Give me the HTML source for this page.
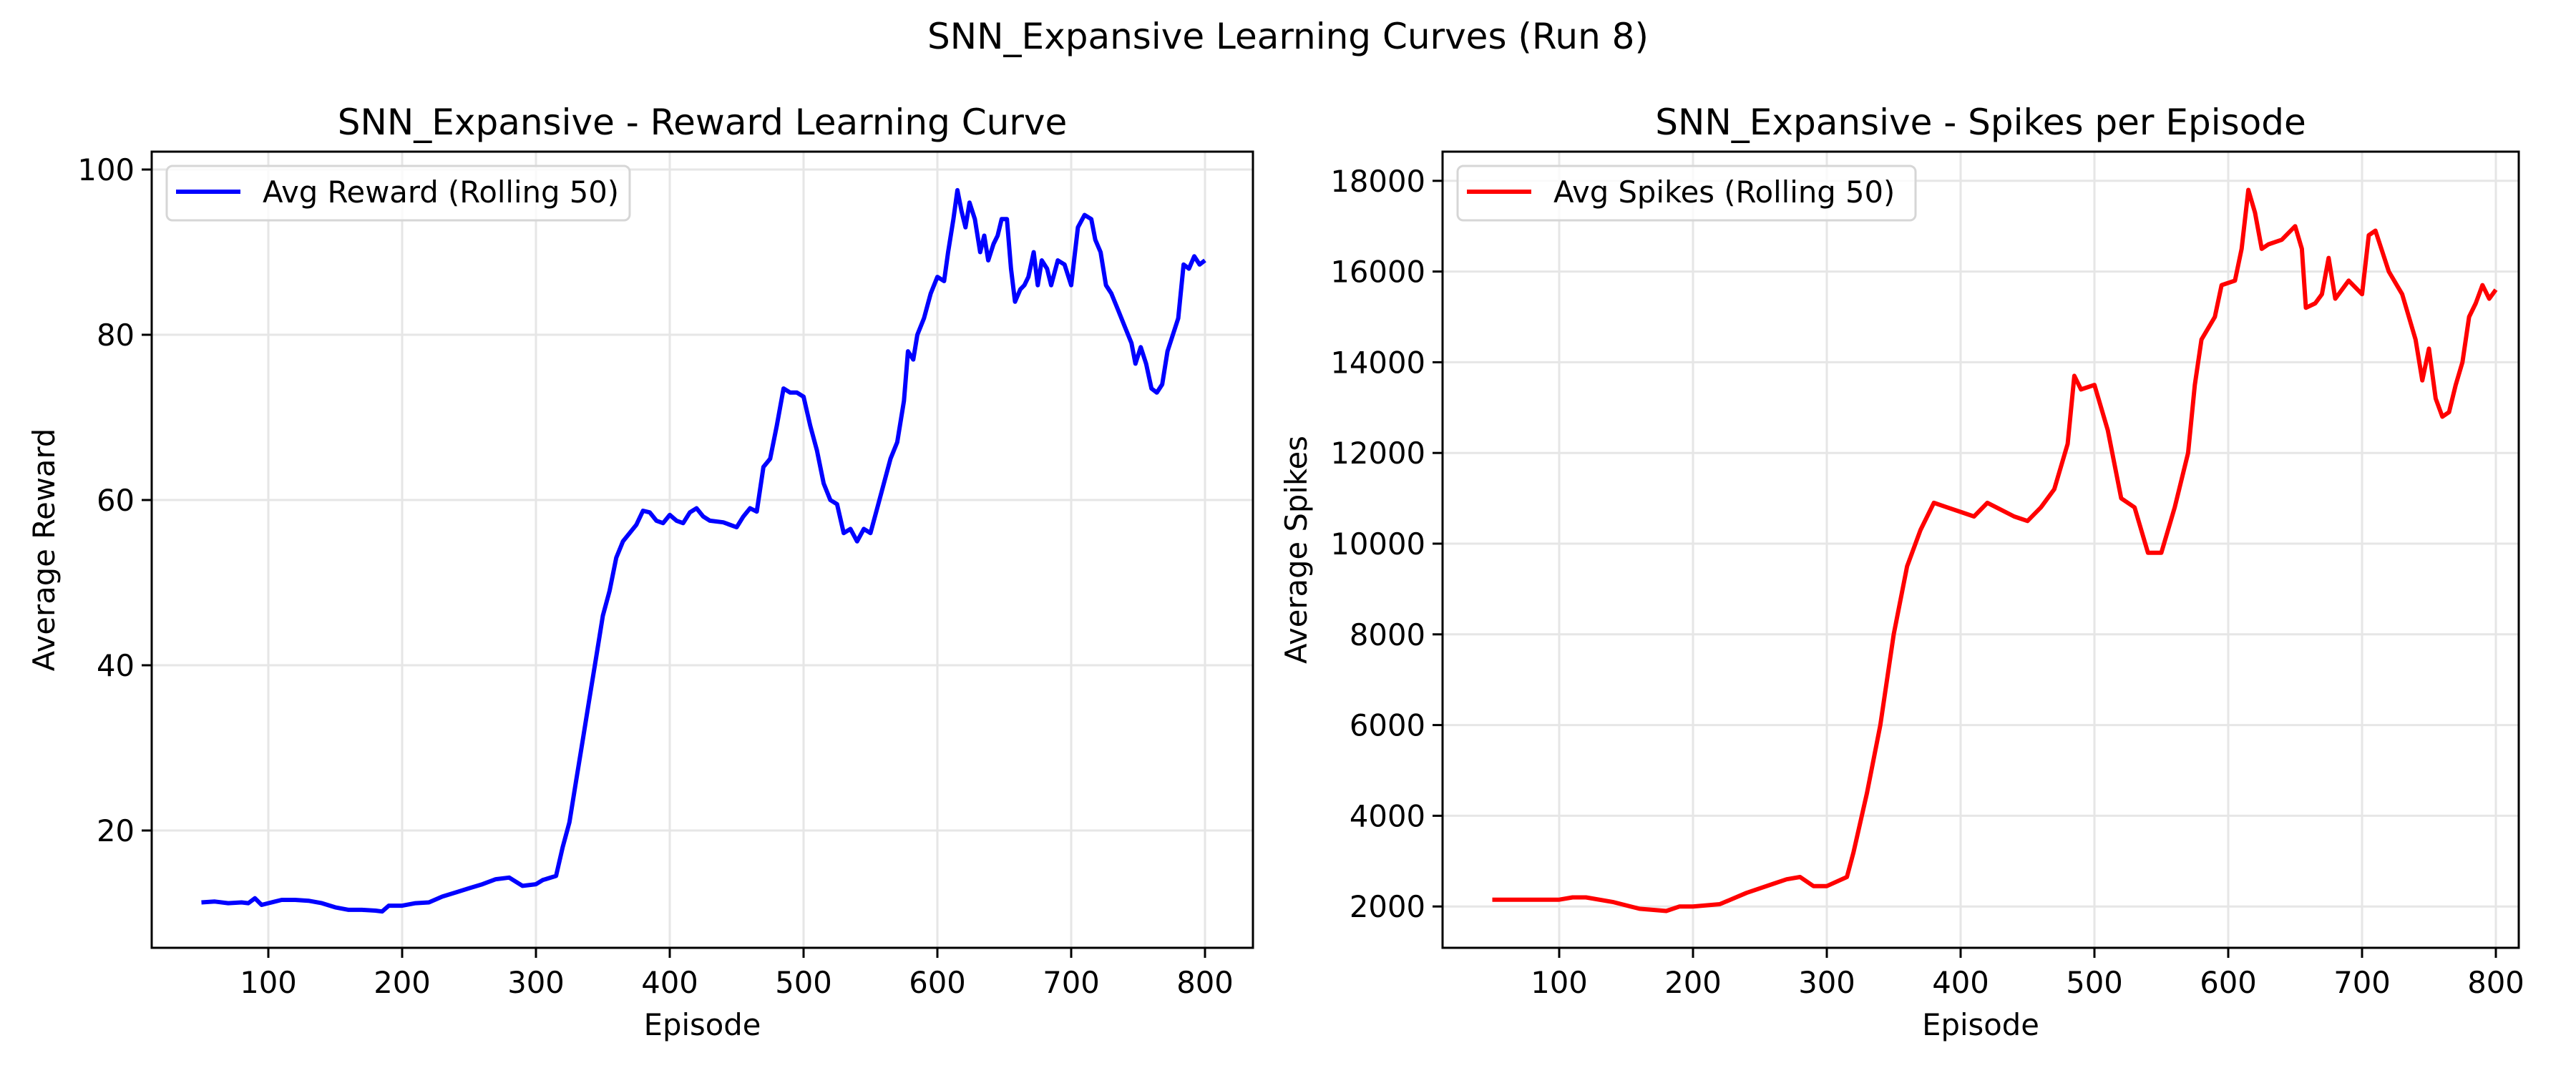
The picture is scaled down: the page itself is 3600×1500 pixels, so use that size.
<!DOCTYPE html>
<html><head><meta charset="utf-8"><style>
html,body{margin:0;padding:0;background:#fff;}
svg{display:block;font-family:"DejaVu Sans","Liberation Sans",sans-serif;}
</style></head><body>
<svg id="fig" width="3600" height="1500" viewBox="0 0 3600 1500" xmlns="http://www.w3.org/2000/svg">
<rect width="3600" height="1500" fill="#fff"/>
<text x="1800" y="68" font-size="50" text-anchor="middle">SNN_Expansive Learning Curves (Run 8)</text>
<g id="left"></g>
<g id="right"></g>
</svg>
<script>
const rewardEpisodes=[50,60,70,80,85,90,95,100,110,120,130,140,150,160,170,180,185,190,200,210,220,230,240,250,260,270,280,290,300,305,315,320,325,330,335,340,345,350,355,360,365,370,375,380,385,390,395,400,405,410,415,420,425,430,440,450,455,460,465,470,475,480,485,490,495,500,505,510,515,520,525,530,535,540,545,550,555,560,565,570,575,578,582,585,590,595,600,605,608,612,615,618,621,624,628,632,635,638,642,645,648,652,655,658,662,665,668,672,675,678,682,685,690,695,700,705,710,715,718,722,726,730,735,740,745,748,752,756,760,764,768,772,776,780,784,788,792,796,800];
const rewardValues=[11.3,11.4,11.2,11.3,11.2,11.8,11.0,11.2,11.6,11.6,11.5,11.2,10.7,10.4,10.4,10.3,10.2,10.9,10.9,11.2,11.3,12.0,12.5,13.0,13.5,14.1,14.3,13.3,13.5,14.0,14.5,18,21,26,31,36,41,46,49,53,55,56,57,58.7,58.5,57.5,57.2,58.2,57.5,57.2,58.5,59.0,58.0,57.5,57.3,56.7,58,59,58.6,64,65,69,73.5,73,73,72.5,69,66,62,60,59.5,56,56.5,55,56.5,56,59,62,65,67,72,78,77,80,82,85,87,86.5,90,94,97.5,95,93,96,94,90,92,89,91,92,94,94,88,84,85.5,86,87,90,86,89,88,86,89,88.5,86,93,94.5,94,91.5,90,86,85,83,81,79,76.5,78.5,76.5,73.5,73,74,78,80,82,88.5,88,89.5,88.5,89];
const spikeEpisodes=[50,100,110,120,140,160,180,190,200,220,240,260,270,280,290,300,315,320,330,340,350,360,370,380,390,400,410,420,440,450,460,470,480,485,490,500,510,520,530,540,550,560,570,575,580,590,595,605,610,615,620,625,630,640,650,655,658,665,670,675,680,690,700,705,710,720,730,740,745,750,755,760,765,770,775,780,785,790,795,800];
const spikeValues=[2150,2150,2200,2200,2100,1950,1900,2000,2000,2050,2300,2500,2600,2650,2450,2450,2650,3200,4500,6000,8000,9500,10300,10900,10800,10700,10600,10900,10600,10500,10800,11200,12200,13700,13400,13500,12500,11000,10800,9800,9800,10800,12000,13500,14500,15000,15700,15800,16500,17800,17300,16500,16600,16700,17000,16500,15200,15300,15500,16300,15400,15800,15500,16800,16900,16000,15500,14500,13600,14300,13200,12800,12900,13500,14000,15000,15300,15700,15400,15600];
const xTicks=[100,200,300,400,500,600,700,800];
const rewardTicks=[20,40,60,80,100];
const spikeTicks=[2000,4000,6000,8000,10000,12000,14000,16000,18000];
const NS="http://www.w3.org/2000/svg";
function mk(parent,tag,attrs,text){const e=document.createElementNS(NS,tag);for(const k in attrs)e.setAttribute(k,attrs[k]);if(text!==undefined)e.textContent=text;parent.appendChild(e);return e;}
function panel(g,cfg){
  const X=v=>cfg.x0+v*cfg.xs, Y=v=>cfg.y0-v*cfg.ys;
  const L=cfg.left,R=cfg.right,T=212,B=1325;
  for(const t of xTicks){
    const gl=mk(g,'line',{x1:X(t),x2:X(t),y1:T,y2:B,stroke:'#e6e6e6','stroke-width':3});
    
    
    mk(g,'line',{x1:X(t),x2:X(t),y1:B,y2:B+14,stroke:'#000','stroke-width':3});
    const tl=mk(g,'text',{x:X(t),y:B+63,'font-size':41.7,'text-anchor':'middle'},String(t));
    
    
  }
  for(const t of cfg.yTicks){
    const gl=mk(g,'line',{x1:L,x2:R,y1:Y(t),y2:Y(t),stroke:'#e6e6e6','stroke-width':3});
    
    
    mk(g,'line',{x1:L-14,x2:L,y1:Y(t),y2:Y(t),stroke:'#000','stroke-width':3});
    const tl=mk(g,'text',{x:L-24,y:Y(t)+15,'font-size':41.7,'text-anchor':'end'},String(t));
    
    
  }
  let d='';cfg.ex.forEach((e,i)=>{d+=(i?'L':'M')+X(e).toFixed(1)+' '+Y(cfg.vals[i]).toFixed(1);});
  const p=mk(g,'path',{d:d,fill:'none',stroke:cfg.color,'stroke-width':6,'stroke-linejoin':'round'});
  
  
  const fr=mk(g,'rect',{x:L,y:T,width:R-L,height:B-T,fill:'none',stroke:'#000','stroke-width':3});
  
  
  const ti=mk(g,'text',{x:(L+R)/2,y:188,'font-size':50,'text-anchor':'middle'},cfg.title);
  
  
  const xl=mk(g,'text',{x:(L+R)/2,y:1447,'font-size':41.7,'text-anchor':'middle'},'Episode');
  
  
  const yl=mk(g,'text',{x:0,y:0,'font-size':41.7,'text-anchor':'middle',transform:`translate(${cfg.ylx},${(T+B)/2}) rotate(-90)`},cfg.ylabel);
  
  
  const lg=mk(g,'g',{});
  
  
  mk(lg,'rect',{x:L+21,y:232,width:cfg.legW,height:76,rx:8,fill:'#fff','fill-opacity':0.8,stroke:'#d6d6d6','stroke-width':3});
  mk(lg,'line',{x1:L+34,x2:L+124,y1:268,y2:268,stroke:cfg.color,'stroke-width':6});
  mk(lg,'text',{x:L+155,y:283,'font-size':41.7},cfg.legend);
}
panel(document.getElementById('left'),{x0:188,xs:1.87,y0:1392,ys:11.55,left:212,right:1751,yTicks:rewardTicks,ex:rewardEpisodes,vals:rewardValues,color:'#0000ff',lineName:'reward-line',title:'SNN_Expansive - Reward Learning Curve',ylabel:'Average Reward',ylx:76,legend:'Avg Reward (Rolling 50)',legW:647});
panel(document.getElementById('right'),{x0:1992,xs:1.87,y0:1394,ys:126.8/2000,left:2016,right:3520,yTicks:spikeTicks,ex:spikeEpisodes,vals:spikeValues,color:'#ff0000',lineName:'spikes-line',title:'SNN_Expansive - Spikes per Episode',ylabel:'Average Spikes',ylx:1826,legend:'Avg Spikes (Rolling 50)',legW:640});
</script>
</body></html>
